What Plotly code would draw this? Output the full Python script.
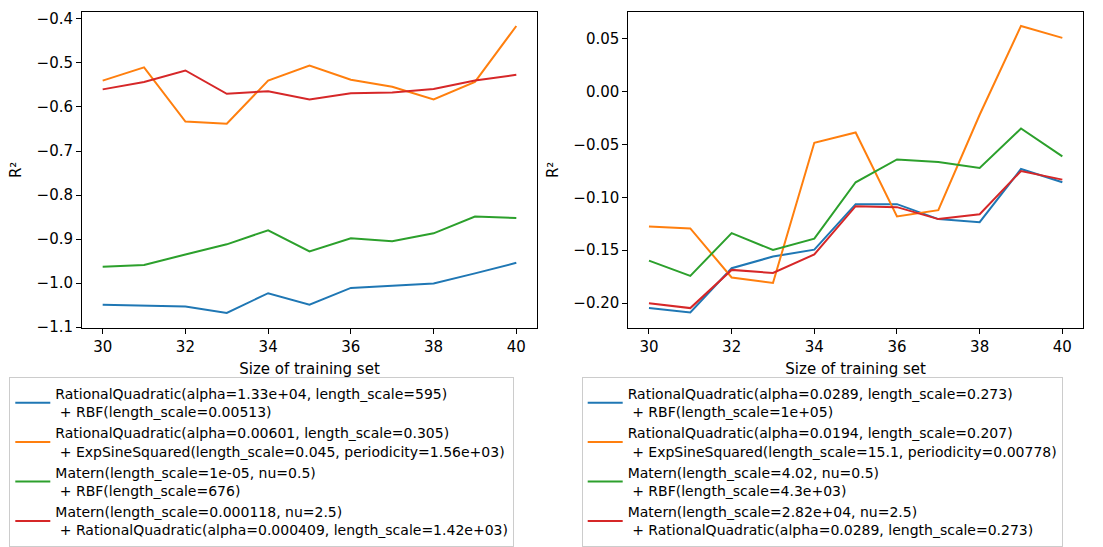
import plotly.graph_objects as go

sizes = [30, 31, 32, 33, 34, 35, 36, 37, 38, 39, 40]

left_names = [
    "RationalQuadratic(alpha=1.33e+04, length_scale=595)<br> + RBF(length_scale=0.00513)",
    "RationalQuadratic(alpha=0.00601, length_scale=0.305)<br> + ExpSineSquared(length_scale=0.045, periodicity=1.56e+03)",
    "Matern(length_scale=1e-05, nu=0.5)<br> + RBF(length_scale=676)",
    "Matern(length_scale=0.000118, nu=2.5)<br> + RationalQuadratic(alpha=0.000409, length_scale=1.42e+03)",
]
left_blue = [-1.049, -1.051, -1.053, -1.068, -1.023, -1.049, -1.011, -1.006, -1.001, -0.978, -0.954]
left_orange = [-0.540, -0.510, -0.633, -0.638, -0.540, -0.506, -0.538, -0.554, -0.583, -0.543, -0.416]
left_green = [-0.963, -0.959, -0.935, -0.912, -0.880, -0.928, -0.898, -0.905, -0.887, -0.849, -0.852]
left_red = [-0.560, -0.543, -0.517, -0.570, -0.564, -0.583, -0.569, -0.567, -0.559, -0.540, -0.527]

right_names = [
    "RationalQuadratic(alpha=0.0289, length_scale=0.273)<br> + RBF(length_scale=1e+05)",
    "RationalQuadratic(alpha=0.0194, length_scale=0.207)<br> + ExpSineSquared(length_scale=15.1, periodicity=0.00778)",
    "Matern(length_scale=4.02, nu=0.5)<br> + RBF(length_scale=4.3e+03)",
    "Matern(length_scale=2.82e+04, nu=2.5)<br> + RationalQuadratic(alpha=0.0289, length_scale=0.273)",
]
right_blue = [-0.2047, -0.2088, -0.1670, -0.1560, -0.1495, -0.1065, -0.1065, -0.1206, -0.1235, -0.0733, -0.0858]
right_orange = [-0.1275, -0.1294, -0.1758, -0.1809, -0.0485, -0.0388, -0.1181, -0.1122, -0.0220, 0.0619, 0.0506]
right_green = [-0.1598, -0.1743, -0.1338, -0.1498, -0.1391, -0.0858, -0.0642, -0.0667, -0.0723, -0.0350, -0.0614]
right_red = [-0.2000, -0.2047, -0.1686, -0.1715, -0.1540, -0.1084, -0.1093, -0.1206, -0.1160, -0.0752, -0.0833]

colors = ["#1f77b4", "#ff7f0e", "#2ca02c", "#d62728"]
FONT = "DejaVu Sans"
FS = 15
LFS = 14

fig = go.Figure()
for name, ys, c in zip(left_names, [left_blue, left_orange, left_green, left_red], colors):
    fig.add_trace(go.Scatter(x=sizes, y=ys, mode="lines", name=name,
                             line=dict(color=c, width=2), xaxis="x", yaxis="y",
                             legend="legend"))
for name, ys, c in zip(right_names, [right_blue, right_orange, right_green, right_red], colors):
    fig.add_trace(go.Scatter(x=sizes, y=ys, mode="lines", name=name,
                             line=dict(color=c, width=2), xaxis="x2", yaxis="y2",
                             legend="legend2"))

W, H = 1103, 547
ydom = [1 - 329 / H, 1 - 12 / H]
axis_common = dict(showline=True, linecolor="black", linewidth=1, mirror=True,
                   showgrid=False, zeroline=False, ticks="outside", ticklen=5,
                   tickwidth=1, tickcolor="black",
                   tickfont=dict(family=FONT, size=FS, color="black"),
                   automargin=False)
title_font = dict(family=FONT, size=FS, color="black")

leg_common = dict(font=dict(family=FONT, size=LFS, color="black"),
                  bgcolor="white", bordercolor="#cccccc", borderwidth=1,
                  xanchor="left", yanchor="top", itemwidth=35, traceorder="normal")

fig.update_layout(
    width=W, height=H,
    margin=dict(l=0, r=0, t=0, b=0),
    paper_bgcolor="white", plot_bgcolor="white",
    font=dict(family=FONT, size=FS, color="black"),
    xaxis=dict(domain=[82 / W, 537 / W], range=[29.5, 40.5], dtick=2, tick0=30,
               title=dict(text="Size of training set", standoff=8, font=title_font),
               anchor="y", **axis_common),
    yaxis=dict(domain=ydom, range=[-1.1016, -0.3841], dtick=0.1, tick0=0,
               tickformat=".1f",
               title=dict(text="R²", standoff=11, font=title_font),
               anchor="x", **axis_common),
    xaxis2=dict(domain=[628.3 / W, 1083 / W], range=[29.5, 40.5], dtick=2, tick0=30,
                title=dict(text="Size of training set", standoff=8, font=title_font),
                anchor="y2", **axis_common),
    yaxis2=dict(domain=ydom, range=[-0.2233, 0.0751], dtick=0.05, tick0=0,
                tickformat=".2f",
                title=dict(text="R²", standoff=11, font=title_font),
                anchor="x2", **axis_common),
    legend=dict(x=9.3 / W, y=1 - 378.7 / H, **leg_common),
    legend2=dict(x=581.7 / W, y=1 - 378.7 / H, **leg_common),
)

fig.write_html("out.html")
